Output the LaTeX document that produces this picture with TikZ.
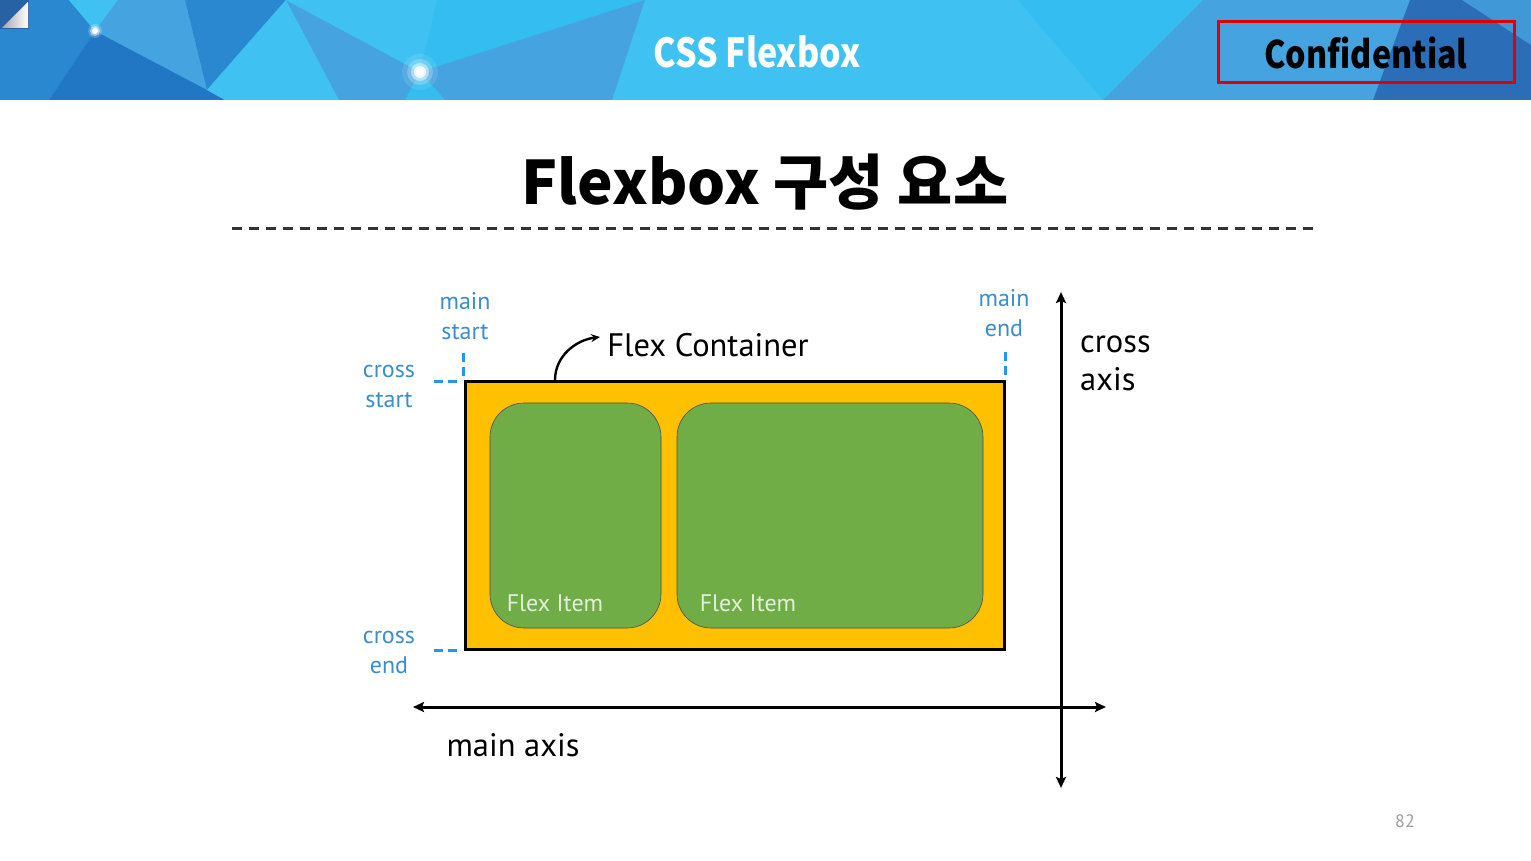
\documentclass[tikz,border=0pt]{standalone}
\usepackage{fontspec}
\usetikzlibrary{arrows.meta}
\newfontfamily\krfont{Noto Sans CJK KR}
\newfontfamily\krhead{Noto Sans CJK KR}[FakeStretch=0.85]
\newfontfamily\labfont{PT Sans}

\definecolor{bnCyan}{HTML}{3FC2F2}
\definecolor{bnCyanB}{HTML}{33BDF0}
\definecolor{bnMid}{HTML}{45A3DF}
\definecolor{bnDark}{HTML}{2A88D0}
\definecolor{bnDeep}{HTML}{2277C4}
\definecolor{bnNavy}{HTML}{2B6DB7}
\definecolor{boxYellow}{HTML}{FFC000}
\definecolor{itemGreen}{HTML}{70AD47}
\definecolor{itemText}{HTML}{E2EFDA}
\definecolor{tagBlue}{HTML}{3A8ECB}
\definecolor{tickBlue}{HTML}{2196F3}
\definecolor{confRed}{HTML}{E00000}

\tikzset{
  container/.style={draw=black, line width=3pt, fill=boxYellow, inner sep=0pt},
  flexitem/.style={draw=black!70, line width=0.6pt, fill=itemGreen, rounded corners=34pt, inner sep=0pt},
  itemlabel/.style={text=itemText, font={\labfont\fontsize{24}{28}\selectfont}, inner sep=0pt},
  tag/.style={text=tagBlue, align=center, font={\labfont\fontsize{24}{30}\selectfont}, inner sep=0pt},
  tick/.style={draw=tickBlue, line width=3.2pt, dash pattern=on 9pt off 5pt},
  bigtext/.style={text=black, font={\labfont\fontsize{32.5}{38}\selectfont}, inner sep=0pt},
  axis/.style={draw=black, line width=3pt, {Stealth[length=11pt,width=10pt,inset=2pt]}-{Stealth[length=11pt,width=10pt,inset=2pt]}},
}

\begin{document}
\begin{tikzpicture}[x=1pt,y=-1pt]
\useasboundingbox (0,0) rectangle (1531,861);
\fill[white] (0,0) rectangle (1531,861);

% ---- header banner: low-poly blue facets ----
\fill[bnCyan] (0,0) rectangle (1531,100);
\fill[bnDark] (0,0) -- (69,0) -- (95,31) -- (49,100) -- (0,100) -- cycle;
\fill[bnCyan] (69,0) -- (118,0) -- (95,31) -- cycle;
\fill[bnMid] (118,0) -- (185,0) -- (207,90) -- (95,31) -- cycle;
\fill[bnDeep] (95,31) -- (207,90) -- (225,100) -- (49,100) -- cycle;
\fill[bnDark] (185,0) -- (286,0) -- (207,90) -- cycle;
\fill[bnCyan] (286,0) -- (207,90) -- (225,100) -- (339,100) -- cycle;
\fill[bnMid] (286,0) -- (420,72) -- (405,100) -- (339,100) -- cycle;
\fill[bnCyan] (286,0) -- (437,0) -- (420,72) -- cycle;
\fill[bnCyanB] (437,0) -- (645,0) -- (420,72) -- cycle;
\fill[bnMid] (420,72) -- (645,0) -- (612,100) -- (445,100) -- cycle;
\fill[bnCyanB] (420,72) -- (445,100) -- (405,100) -- cycle;
\fill[bnCyanB] (1018,0) -- (1203,0) -- (1103,100) -- cycle;
\fill[bnMid] (1203,0) -- (1410,0) -- (1373,100) -- (1103,100) -- cycle;
\fill[bnNavy] (1410,0) -- (1531,0) -- (1531,100) -- (1373,100) -- cycle;
\fill[bnMid!80!bnNavy] (1462,0) -- (1531,0) -- (1531,45) -- cycle;

% glowing points
\foreach \r/\o in {18/0.10,13/0.22,9/0.45,6/0.8,4/1}
  \fill[white, opacity=\o] (420,72) circle (\r);
\foreach \r/\o in {7/0.2,5/0.5,3/1}
  \fill[white, opacity=\o] (95,31) circle (\r);

% page-corner icon
\fill[bnNavy!90!black] (0,0) rectangle (29,29);
\shade[left color=black!35, right color=white] (2,28) -- (28,2) -- (28,28) -- cycle;

% header texts
\node[text=white, font={\krhead\bfseries\fontsize{40}{44}\selectfont}, inner sep=0pt] (hdr) at (757,52) {CSS Flexbox};
\node[draw=confRed, line width=3pt, minimum width=296pt, minimum height=61pt, inner sep=0pt] (conf) at (1366,52.5) {};
\node[text=black, font={\krhead\bfseries\fontsize{38}{42}\selectfont}, inner sep=0pt] (conftext) at (conf.center) {Confidential};

% ---- slide title ----
\node[font={\krfont\bfseries\fontsize{60}{68}\selectfont}, inner sep=0pt] (title) at (765,182) {Flexbox 구성 요소};
\coordinate (rule1) at (232,229);
\coordinate (rule2) at (1313,229);
\draw[black!80, line width=3pt, dash pattern=on 10pt off 7pt] (rule1) -- (rule2);

% ---- flex container and items ----
\node[container, minimum width=539pt, minimum height=268pt] (fc) at (734.5,515) {};
\node[flexitem, minimum width=171pt, minimum height=225pt] (it1) at (575.5,515.5) {};
\node[flexitem, minimum width=306pt, minimum height=225pt] (it2) at (830,515.5) {};
\node[itemlabel] (il1) at (555,603) {Flex Item};
\node[itemlabel] (il2) at (748,603) {Flex Item};

\node[bigtext] (fctext) at (708,345) {Flex Container};
\coordinate (fcfoot) at (555,380);
\coordinate (fctip) at (600,337);
\draw[black, line width=2.4pt, -{Stealth[length=9pt,width=8pt]}] (fcfoot) .. controls (555,356) and (576,340) .. (fctip);

% ---- start / end markers ----
\node[tag] (mstart) at (465,316) {main\\start};
\node[tag] (cstart) at (389,386) {cross\\start};
\node[tag] (mend) at (1004,313) {main\\end};
\node[tag] (cend) at (389,652) {cross\\end};

\draw[tick] (fc.north west) ++(0,-27) -- (fc.north west);
\draw[tick] (fc.north west) ++(-30,2) -- ++(28,0);
\draw[tick] (fc.north east) ++(0,-28) -- (fc.north east);
\draw[tick] (fc.south west) ++(-30,0) -- ++(28,0);

% ---- axes ----
\coordinate (mA) at (413,707);
\coordinate (mB) at (1106,707);
\coordinate (cA) at (1061,292);
\coordinate (cB) at (1061,788);
\draw[axis] (mA) -- (mB);
\draw[axis] (cA) -- (cB);
\node[bigtext] (mlabel) at (513,745) {main axis};
\node[bigtext, align=left, anchor=west] (clabel) at (1080,363) {cross\\axis};

% page number
\node[text=black!38, font={\labfont\fontsize{18}{20}\selectfont}, inner sep=0pt] (pnum) at (1405,821) {82};
\end{tikzpicture}
\end{document}
